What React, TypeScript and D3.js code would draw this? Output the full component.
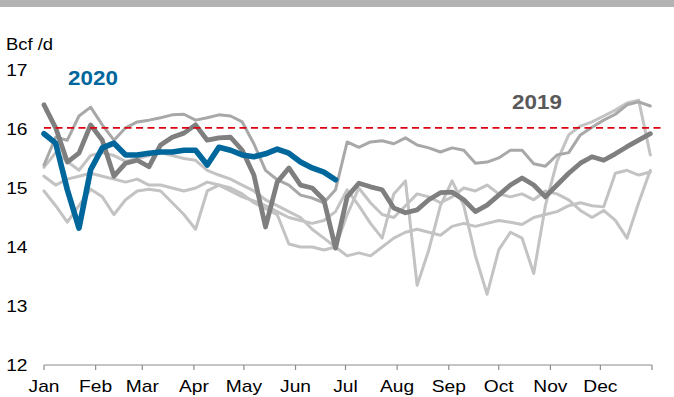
import React from 'react';
import * as d3 from 'd3';

// ---- data ----
const MONTHS = ['Jan', 'Feb', 'Mar', 'Apr', 'May', 'Jun', 'Jul', 'Aug', 'Sep', 'Oct', 'Nov', 'Dec'];
const MONTH_START_DAYS = [0, 31, 59, 90, 120, 151, 181, 212, 243, 273, 304, 334, 365];
const Y_TICKS = [12, 13, 14, 15, 16, 17];
const STEP_DAYS = 7; // values are weekly samples starting Jan 1
const REF_LEVEL = 16.02;

const SERIES_A = [15.39, 15.86, 15.81, 16.22, 16.37, 16.07, 15.81, 16.02, 16.12, 16.15, 16.19, 16.24, 16.25, 16.15, 16.19, 16.24, 16.22, 16.12, 15.75, 15.3, 15.14, 15.05, 14.88, 14.83, 14.75, 14.97, 15.78, 15.69, 15.78, 15.8, 15.75, 15.85, 15.73, 15.68, 15.61, 15.68, 15.64, 15.42, 15.44, 15.51, 15.64, 15.64, 15.41, 15.37, 15.56, 15.6, 15.9, 16.03, 16.15, 16.25, 16.41, 16.46, 16.39];
const SERIES_B = [15.35, 15.6, 15.45, 15.3, 15.55, 15.6, 15.55, 15.45, 15.5, 15.55, 15.6, 15.55, 15.5, 15.47, 15.3, 15.22, 15.15, 15.05, 14.95, 14.8, 14.7, 14.6, 14.5, 14.3, 14.15, 14.0, 13.85, 13.9, 13.85, 14.0, 14.15, 14.25, 14.3, 14.25, 14.2, 14.35, 14.4, 14.35, 14.4, 14.45, 14.42, 14.38, 14.5, 14.55, 14.6, 14.7, 14.75, 14.7, 14.68, 15.25, 15.3, 15.22, 15.27];
const SERIES_C = [15.2, 15.05, 15.15, 15.2, 15.25, 15.2, 15.15, 15.1, 15.15, 15.05, 15.05, 15.0, 14.95, 15.0, 15.1, 15.05, 14.95, 14.85, 14.78, 14.7, 14.6, 14.5, 14.45, 14.4, 14.45, 14.6, 14.97, 14.7, 14.4, 14.15, 14.9, 15.12, 13.35, 13.95, 14.7, 15.12, 14.7, 13.85, 13.2, 13.95, 14.25, 14.15, 13.55, 14.7, 15.45, 15.9, 16.05, 16.12, 16.22, 16.32, 16.44, 16.49, 15.56];
const SERIES_D = [14.95, 14.7, 14.42, 14.7, 14.98, 14.85, 14.55, 14.8, 14.95, 14.98, 14.95, 14.75, 14.55, 14.3, 14.95, 15.05, 15.0, 14.9, 14.75, 14.65, 14.55, 14.05, 14.0, 14.0, 13.95, 14.0, 14.55, 15.0, 14.75, 14.55, 14.5, 14.7, 14.9, 14.85, 14.75, 14.85, 15.0, 14.95, 15.05, 14.9, 14.85, 14.9, 14.8, 14.95, 14.9, 14.8, 14.62, 14.5, 14.62, 14.45, 14.15, 14.75, 15.3];
const SERIES_2019 = [16.41, 16.02, 15.44, 15.59, 16.07, 15.81, 15.2, 15.42, 15.47, 15.36, 15.73, 15.86, 15.93, 16.07, 15.81, 15.85, 15.86, 15.64, 15.22, 14.34, 15.1, 15.34, 15.05, 15.0, 14.8, 13.98, 14.85, 15.08, 15.02, 14.97, 14.66, 14.58, 14.63, 14.8, 14.92, 14.93, 14.8, 14.6, 14.71, 14.88, 15.05, 15.17, 15.05, 14.85, 15.05, 15.25, 15.42, 15.53, 15.47, 15.58, 15.7, 15.81, 15.92];
const SERIES_2020 = [15.92, 15.76, 14.97, 14.32, 15.31, 15.68, 15.76, 15.56, 15.56, 15.59, 15.61, 15.61, 15.64, 15.64, 15.39, 15.69, 15.64, 15.56, 15.53, 15.58, 15.66, 15.59, 15.44, 15.34, 15.27, 15.14];

const FONT = 'Liberation Sans, Arial, Helvetica, sans-serif';

export default function App() {
  const W = 674;
  const H = 397;
  const x = d3.scaleLinear().domain([0, 365]).range([44, 652]);
  const y = d3.scaleLinear().domain([12, 17]).range([365, 70]);

  const line = d3
    .line<number>()
    .x((_, i) => x(i * STEP_DAYS))
    .y((v) => y(v))
    .curve(d3.curveLinear);

  const grayLines = [
    { data: SERIES_D, color: '#c3c3c3', w: 3 },
    { data: SERIES_C, color: '#c3c3c3', w: 3 },
    { data: SERIES_B, color: '#c3c3c3', w: 3 },
    { data: SERIES_A, color: '#a8a8a8', w: 3 },
  ];

  return (
    <svg
      width={W}
      height={H}
      style={{ position: 'absolute', left: 0, top: 0, background: '#fff' }}
      fontFamily={FONT}
    >
      <rect x={0} y={0} width={W} height={7} fill="#b3b3b3" />

      {/* unit label */}
      <text transform="translate(6,50) scale(1.15,1)" fontSize={16} fill="#000">
        Bcf /d
      </text>

      {/* y tick labels */}
      {Y_TICKS.map((t) => (
        <text
          key={t}
          transform={`translate(27.5,${y(t) + 6}) scale(1.2,1)`}
          fontSize={16}
          textAnchor="end"
          fill="#000"
        >
          {t}
        </text>
      ))}

      {/* gray lines */}
      {grayLines.map((g, i) => (
        <path
          key={i}
          d={line(g.data) || ''}
          fill="none"
          stroke={g.color}
          strokeWidth={g.w}
          strokeLinejoin="round"
          strokeLinecap="round"
        />
      ))}

      {/* 2019 */}
      <path
        d={line(SERIES_2019) || ''}
        fill="none"
        stroke="#7f7f7f"
        strokeWidth={4.8}
        strokeLinejoin="round"
        strokeLinecap="round"
      />

      {/* reference dashed line */}
      <line
        x1={x(0)}
        x2={662}
        y1={y(REF_LEVEL)}
        y2={y(REF_LEVEL)}
        stroke="#dc0010"
        strokeWidth={1.7}
        strokeDasharray="7,4.5"
      />

      {/* 2020 */}
      <path
        d={line(SERIES_2020) || ''}
        fill="none"
        stroke="#00679c"
        strokeWidth={5.6}
        strokeLinejoin="round"
        strokeLinecap="round"
      />

      {/* x axis */}
      <line x1={x(0)} x2={x(365)} y1={365} y2={365} stroke="#8c8c8c" strokeWidth={1.2} />
      {MONTH_START_DAYS.map((d) => (
        <line key={d} x1={x(d)} x2={x(d)} y1={365} y2={370} stroke="#8c8c8c" strokeWidth={1.2} />
      ))}
      {MONTHS.map((m, i) => (
        <text
          key={m}
          transform={`translate(${x(MONTH_START_DAYS[i])},392) scale(1.2,1)`}
          fontSize={16}
          textAnchor="middle"
          fill="#000"
        >
          {m}
        </text>
      ))}

      {/* series labels */}
      <text transform="translate(68,85) scale(1.15,1)" fontSize={19.5} fontWeight="bold" fill="#00679c">
        2020
      </text>
      <text transform="translate(512,109) scale(1.15,1)" fontSize={19.5} fontWeight="bold" fill="#595959">
        2019
      </text>
    </svg>
  );
}
